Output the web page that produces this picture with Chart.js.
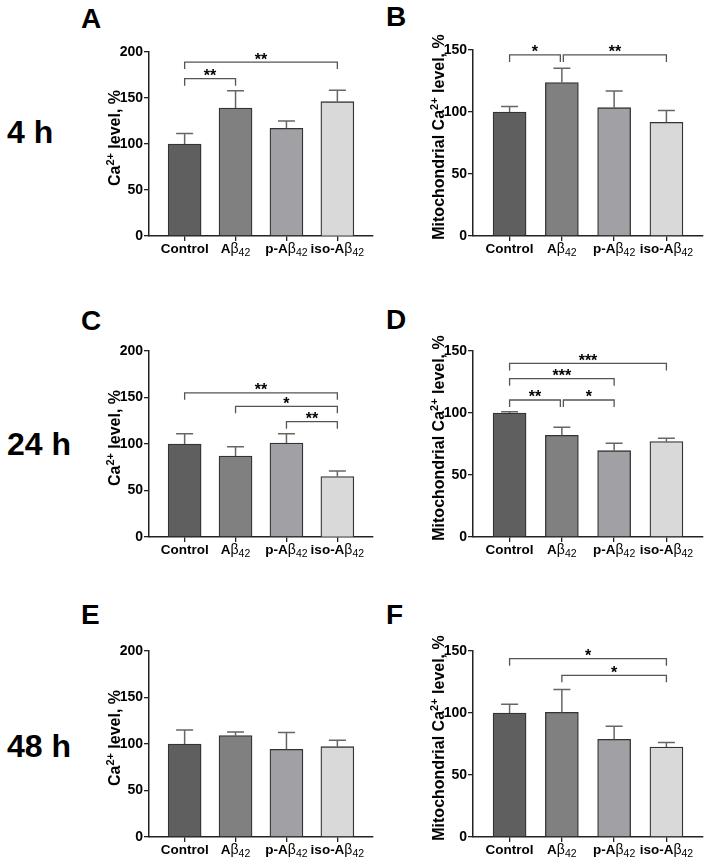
<!DOCTYPE html>
<html><head><meta charset="utf-8">
<script src="https://cdn.jsdelivr.net/npm/chart.js@4.4.1/dist/chart.umd.min.js"></script>
<style>
body{margin:0;background:#fff;width:709px;height:867px;position:relative;overflow:hidden;font-family:"Liberation Sans",Arial,sans-serif;}
.box{position:absolute;}
.lab{position:absolute;font-weight:bold;font-size:28px;line-height:28px;color:#000;}
.time{position:absolute;font-weight:bold;font-size:32px;line-height:32px;color:#000;white-space:nowrap;}
</style></head><body>
<div class="lab" style="left:81px;top:5px">A</div>
<div class="lab" style="left:386px;top:3px">B</div>
<div class="lab" style="left:81px;top:307px">C</div>
<div class="lab" style="left:386px;top:306px">D</div>
<div class="lab" style="left:81px;top:601px">E</div>
<div class="lab" style="left:386px;top:601px">F</div>
<div class="time" style="left:7px;top:116px">4 h</div>
<div class="time" style="left:7px;top:428px">24 h</div>
<div class="time" style="left:7px;top:730px">48 h</div>
<script>
// ---- data ----
const categories = ['Control', 'Aβ42', 'p-Aβ42', 'iso-Aβ42'];
const yTicksCa = [0, 50, 100, 150, 200];
const yTicksMito = [0, 50, 100, 150];
const titleCa = ['', 'Ca', '2+', ' level, %'];
const titleMito = ['Mitochondrial ', 'Ca', '2+', ' level, %'];

const valuesA = [100, 139, 117, 146];
const errorsA = [11.5, 19, 8, 12.5];
const bracketsA = [[0, 1, 171, '**'], [0, 3, 189, '**']];

const valuesB = [100, 123.7, 103.5, 91.7];
const errorsB = [4.5, 11.5, 13.5, 9.5];
const bracketsB = [[0, 1, 146, '*'], [1, 3, 146, '**']];

const valuesC = [100, 87, 101, 65];
const errorsC = [11, 10, 10, 6];
const bracketsC = [[0, 3, 155, '**'], [1, 3, 140.5, '*'], [2, 3, 124, '**']];

const valuesD = [100, 82, 69.6, 76.9];
const errorsD = [1, 6.5, 6, 2.7];
const bracketsD = [[0, 3, 140, '***'], [0, 2, 127.7, '***'], [0, 1, 110.5, '**'], [1, 2, 110.5, '*']];

const valuesE = [100, 109, 94.3, 97.1];
const errorsE = [15, 4, 18, 7];
const bracketsE = [];

const valuesF = [100, 100.5, 78.8, 72.6];
const errorsF = [7, 18.5, 10.5, 3.7];
const bracketsF = [[0, 3, 143.8, '*'], [1, 3, 130.4, '*']];

// ---- styling / layout ----
const FONT = '"Liberation Sans", Arial, sans-serif';
const barColors = ['#5f5f5f', '#808080', '#a1a1a5', '#d9d9d9'];
const AXIS = '#222';

const panels = [
  {values: valuesA, errors: errorsA, brackets: bracketsA, ticks: yTicksCa, title: titleCa, L: 102, left: 149, right: 373, top: 52, bottom: 236},
  {values: valuesB, errors: errorsB, brackets: bracketsB, ticks: yTicksMito, title: titleMito, L: 426, left: 473, right: 703, top: 50, bottom: 236},
  {values: valuesC, errors: errorsC, brackets: bracketsC, ticks: yTicksCa, title: titleCa, L: 102, left: 149, right: 373, top: 351, bottom: 537},
  {values: valuesD, errors: errorsD, brackets: bracketsD, ticks: yTicksMito, title: titleMito, L: 426, left: 473, right: 703, top: 351, bottom: 537},
  {values: valuesE, errors: errorsE, brackets: bracketsE, ticks: yTicksCa, title: titleCa, L: 102, left: 149, right: 373, top: 651, bottom: 837},
  {values: valuesF, errors: errorsF, brackets: bracketsF, ticks: yTicksMito, title: titleMito, L: 426, left: 473, right: 703, top: 651, bottom: 837}
];

function drawSegments(ctx, segs, startX, baseY) {
  let x = startX;
  segs.forEach(s => { if (s[0]) { ctx.font = s[1]; ctx.fillText(s[0], x, baseY + s[2]); } x += s[3]; });
}
function measureSegments(ctx, segs) {
  let total = 0;
  segs.forEach(s => { ctx.font = s[1]; s[3] = ctx.measureText(s[0]).width; total += s[3]; });
  return total;
}

function drawCatLabel(ctx, text, cx, baseY) {
  const m = text.match(/^(.*?)(β)(\d+)$/);
  const segs = m
    ? [[m[1], 'bold 13.5px ' + FONT, 0, 0], [m[2], '14px ' + FONT, 0, 0], [m[3], '10.5px ' + FONT, 3, 0]]
    : [[text, 'bold 13.5px ' + FONT, 0, 0]];
  const total = measureSegments(ctx, segs);
  ctx.textAlign = 'left';
  ctx.textBaseline = 'alphabetic';
  ctx.fillStyle = '#000';
  drawSegments(ctx, segs, cx - total / 2, baseY);
}

function drawYTitle(ctx, parts, x, cy) {
  const big = 'bold 16px ' + FONT, sup = 'bold 11px ' + FONT;
  const segs = [[parts[0], big, 0, 0], [parts[1], big, 0, 0], [parts[2], sup, -6, 0], [parts[3], big, 0, 0]];
  const total = measureSegments(ctx, segs);
  ctx.save();
  ctx.translate(x, cy);
  ctx.rotate(-Math.PI / 2);
  ctx.textAlign = 'left';
  ctx.textBaseline = 'alphabetic';
  ctx.fillStyle = '#000';
  drawSegments(ctx, segs, -total / 2, 0);
  ctx.restore();
}

panels.forEach(p => {
  const T = p.top - 20;
  const H = p.bottom + 30 - T;
  const W = p.right + 5 - p.L;
  const div = document.createElement('div');
  div.className = 'box';
  div.style.left = p.L + 'px';
  div.style.top = T + 'px';
  div.style.width = W + 'px';
  div.style.height = H + 'px';
  const cv = document.createElement('canvas');
  cv.width = W; cv.height = H;
  cv.style.width = W + 'px'; cv.style.height = H + 'px';
  div.appendChild(cv);
  document.body.appendChild(div);

  const overlay = {
    id: 'overlay',
    afterDatasetsDraw(chart) {
      const ctx = chart.ctx, xs = chart.scales.x, ys = chart.scales.y;
      ctx.save();
      ctx.strokeStyle = '#666';
      ctx.lineWidth = 1.5;
      p.values.forEach((v, i) => {
        const x = xs.getPixelForValue(i);
        const y0 = ys.getPixelForValue(v);
        const y1 = ys.getPixelForValue(v + p.errors[i]);
        ctx.beginPath();
        ctx.moveTo(x, y0); ctx.lineTo(x, y1);
        ctx.moveTo(x - 8.5, y1); ctx.lineTo(x + 8.5, y1);
        ctx.stroke();
      });
      ctx.restore();
    },
    afterDraw(chart) {
      const ctx = chart.ctx, xs = chart.scales.x, ys = chart.scales.y;
      ctx.save();
      p.brackets.forEach(b => {
        const [from, to, level, label] = b;
        let x1 = xs.getPixelForValue(from);
        let x2 = xs.getPixelForValue(to);
        if (p.brackets.some(o => o !== b && o[0] === to && o[2] === level)) x2 -= 1.5;
        if (p.brackets.some(o => o !== b && o[1] === from && o[2] === level)) x1 += 1.5;
        const y = ys.getPixelForValue(level);
        ctx.strokeStyle = '#555';
        ctx.lineWidth = 1.3;
        ctx.beginPath();
        ctx.moveTo(x1, y + 7); ctx.lineTo(x1, y); ctx.lineTo(x2, y); ctx.lineTo(x2, y + 7);
        ctx.stroke();
        ctx.fillStyle = '#000';
        ctx.font = 'bold 16px ' + FONT;
        ctx.textAlign = 'center';
        ctx.textBaseline = 'alphabetic';
        ctx.fillText(label, (x1 + x2) / 2, y + 2.5);
      });
      const base = chart.chartArea.bottom + 16.5;
      categories.forEach((c, i) => drawCatLabel(ctx, c, xs.getPixelForValue(i), base));
      const ca = chart.chartArea;
      drawYTitle(ctx, p.title, 17.5, (ca.top + ca.bottom) / 2 - 6);
      ctx.restore();
    }
  };

  new Chart(cv, {
    type: 'bar',
    data: {
      datasets: [{
        data: p.values.map((v, i) => ({x: i, y: v})),
        backgroundColor: barColors,
        borderColor: '#333',
        borderWidth: 1.3,
        barThickness: 33
      }]
    },
    options: {
      responsive: false,
      animation: false,
      devicePixelRatio: 1,
      layout: {padding: {top: 20, right: 5, bottom: 0, left: 0}},
      plugins: {legend: {display: false}, tooltip: {enabled: false}},
      scales: {
        x: {
          type: 'linear',
          offset: false,
          min: -0.7, max: 3.7,
          afterBuildTicks: s => { s.ticks = categories.map((c, i) => ({value: i})); },
          afterFit: s => { s.height = 30; },
          ticks: {display: false},
          grid: {offset: false, drawOnChartArea: false, drawTicks: true, tickLength: 5, color: AXIS, lineWidth: 1.3},
          border: {display: true, color: AXIS, width: 1.5}
        },
        y: {
          type: 'linear',
          min: p.ticks[0], max: p.ticks[p.ticks.length - 1],
          afterBuildTicks: s => { s.ticks = p.ticks.map(v => ({value: v})); },
          afterFit: s => { s.width = p.left - p.L; },
          ticks: {color: '#000', font: {family: FONT, size: 14, weight: 'bold'}, padding: 1},
          grid: {drawOnChartArea: false, drawTicks: true, tickLength: 5, color: AXIS, lineWidth: 1.3},
          border: {display: true, color: AXIS, width: 1.5},
          title: {display: false}
        }
      }
    },
    plugins: [overlay]
  });
});
</script>
</body></html>
